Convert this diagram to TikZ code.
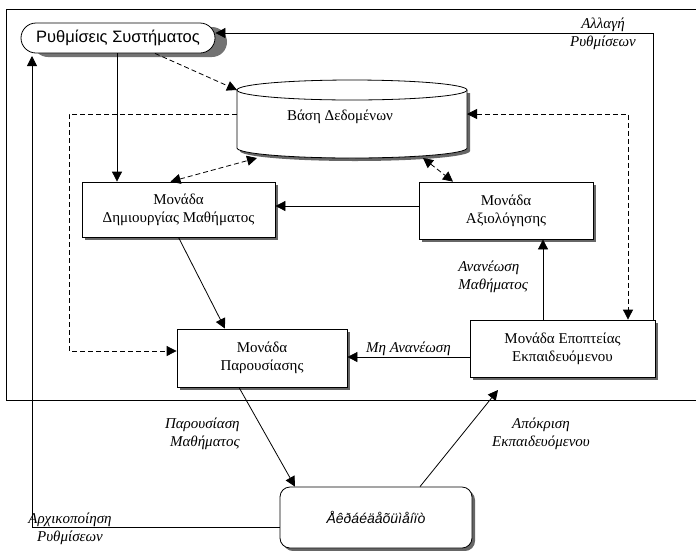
\documentclass[tikz,border=0pt]{standalone}
\usepackage{fontspec}
\setmainfont{Liberation Serif}
\newfontfamily\sansgr{Liberation Sans}
\usetikzlibrary{arrows.meta,shapes.misc,shadows}
\begin{document}
\begin{tikzpicture}[x=1pt,y=-1pt,
  line width=0.8pt,
  arr/.style={-{Triangle[length=10pt,width=10pt]}},
  barr/.style={{Triangle[length=10pt,width=10pt]}-{Triangle[length=10pt,width=10pt]}},
  dsh/.style={dash pattern=on 5pt off 3pt},
  boxshadow/.style={drop shadow={shadow xshift=3pt,shadow yshift=-3pt,fill=black!60,opacity=1}},
  unit/.style={draw,fill=white,boxshadow,align=center,font=\fontsize{15}{18}\selectfont,inner sep=0pt},
  lbl/.style={font=\fontsize{15}{18.5}\selectfont\itshape,inner sep=1pt}
]
\useasboundingbox (0,0) rectangle (696,550);
% frame
\draw (696,9) -- (6,9) -- (6,400) -- (696,400);

% settings node
\node[draw,fill=white,rounded rectangle,minimum width=194pt,minimum height=30pt,inner sep=0pt,
  font=\sansgr\fontsize{16.5}{18}\selectfont,
  drop shadow={shadow xshift=12pt,shadow yshift=-4pt,fill=black!55,opacity=1}] (rs) at (118,38) {Ρυθμίσεις Συστήματος};

% database cylinder
\fill[black!60] (240,93) -- (240,151) arc[start angle=180,end angle=360,x radius=115,y radius=-10] -- (470,93) -- cycle;
\draw[fill=white] (237,90) -- (237,148) arc[start angle=180,end angle=360,x radius=115,y radius=-10] -- (467,90);
\draw[fill=white] (352,90) ellipse[x radius=115,y radius=10];
\node[font=\fontsize{15}{17}\selectfont] (db) at (340,117) {Βάση Δεδομένων};
\coordinate (dbTL) at (237,90);
\coordinate (dbL) at (237,114);
\coordinate (dbR) at (467,114);
\coordinate (dbBL) at (257,158);
\coordinate (dbBR) at (423,158);

% units
\node[unit,minimum width=193pt,minimum height=55pt] (dm) at (178.5,209.5) {Μονάδα\\Δημιουργίας Μαθήματος};
\node[unit,minimum width=174pt,minimum height=57pt] (ax) at (506,210.5) {Μονάδα\\Αξιολόγησης};
\node[unit,minimum width=170pt,minimum height=58pt] (pr) at (262,358) {Μονάδα\\Παρουσίασης};
\node[unit,minimum width=185pt,minimum height=57pt] (ep) at (562.5,348.5) {Μονάδα Εποπτείας\\Εκπαιδευόμενου};
\node[draw,fill=white,boxshadow,rounded corners=10pt,minimum width=192pt,minimum height=61pt,inner sep=0pt] (ek) at (376,517.5)
  {\itshape\sansgr\fontsize{14}{15}\selectfont\scalebox{1.0}[1]{Åêðáéäåõüìåíïò}};

% helper coordinates
\coordinate (c1) at (653,33);
\coordinate (xrs) at (117,0);
\coordinate (dl1) at (69,114);
\coordinate (dl2) at (69,351);
\coordinate (dr1) at (628,114);
\coordinate (xev) at (543,0);
\coordinate (yh) at (0,206);
\coordinate (ym) at (0,357);
\coordinate (b1) at (32,527);
\coordinate (b2) at (32,56);
\coordinate (epb) at (498,390);

% connectors
\draw[arr] (ep.north -| c1) -- (c1) -- (c1 -| rs.east);
\draw[arr] (rs.south -| xrs) -- (dm.north -| xrs);
\draw[arr,dsh] ([xshift=37pt]rs.south) -- (dbTL);
\draw[arr,dsh] (dbL) -- (dl1) -- (dl2) -- (dl2 -| pr.west);
\draw[barr,dsh] ([xshift=-8pt]dm.north) -- (dbBL);
\draw[barr,dsh] (dbBR) -- ([xshift=-53pt]ax.north);
\draw[barr,dsh] (dbR) -- (dr1) -- (ep.north -| dr1);
\draw[arr] (ax.west |- yh) -- (dm.east |- yh);
\draw[arr] (dm.south) -- ([xshift=-37pt]pr.north);
\draw[arr] (ep.north -| xev) -- (ax.south -| xev);
\draw[arr] (ep.west |- ym) -- node[lbl,above] (lmn) {Μη Ανανέωση} (pr.east |- ym);
\draw[arr] ([xshift=-23pt]pr.south) -- ([xshift=-81pt]ek.north);
\draw[arr] ([xshift=44pt]ek.north) -- (epb);
\draw[arr] (ek.west |- b1) -- (b1) -- (b2);

% labels
\node[lbl,align=center] (lal) at (603,34) {Αλλαγή\\Ρυθμίσεων};
\node[lbl,align=left,anchor=west] (lan) at (457,277) {Ανανέωση\\Μαθήματος};
\node[lbl,align=right,anchor=east] (lpm) at (241,434) {Παρουσίαση\\Μαθήματος};
\node[lbl,align=center] (lae) at (541,434) {Απόκριση\\Εκπαιδευόμενου};
\node[lbl,align=center] (lar) at (70,529) {Αρχικοποίηση\\Ρυθμίσεων};
\end{tikzpicture}
\end{document}
